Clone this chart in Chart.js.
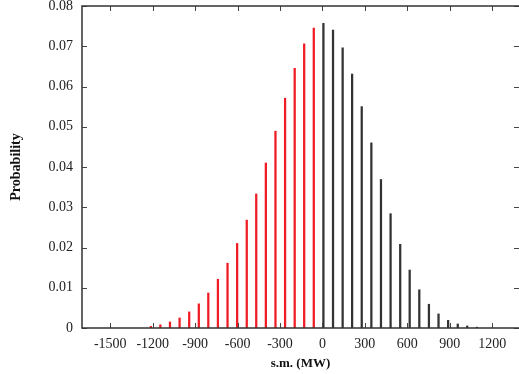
<!DOCTYPE html>
<html lang="en">
<head>
    <meta charset="UTF-8">
    <title>s.m. probability</title>
    <style>
        html, body {
            margin: 0;
            padding: 0;
            background: #fff;
        }
        #wrap {
            width: 519px;
            height: 374px;
        }
    </style>
</head>
<body>
    <div id="wrap"><canvas id="chart" width="519" height="374"></canvas></div>

    <script src="https://cdn.jsdelivr.net/npm/chart.js"></script>
    <script>
        // bars below zero (red) and above zero (black), x in MW
        const negX = [-1213, -1146, -1078, -1010, -942, -874, -807, -739, -671, -603, -535, -468, -400, -332, -264, -196, -129, -61];
        const negP = [0.0004, 0.0008, 0.0015, 0.0025, 0.0040, 0.0060, 0.0087, 0.0121, 0.0161, 0.0210, 0.0268, 0.0333, 0.0410, 0.0489, 0.0571, 0.0645, 0.0706, 0.0745];
        const posX = [7, 75, 143, 210, 278, 346, 414, 482, 550, 617, 685, 753, 821, 889, 957, 1024, 1092];
        const posP = [0.0757, 0.0740, 0.0696, 0.0631, 0.0550, 0.0460, 0.0369, 0.0284, 0.0208, 0.0144, 0.0095, 0.0059, 0.0035, 0.0019, 0.0010, 0.0005, 0.0002];

        const xTicks = [-1500, -1200, -900, -600, -300, 0, 300, 600, 900, 1200];
        const yTicks = [0, 0.01, 0.02, 0.03, 0.04, 0.05, 0.06, 0.07, 0.08];

        const toPoints = (xs, ys) => xs.map((x, i) => ({ x: x, y: ys[i] }));

        // gnuplot style frame with inward ticks
        const framePlugin = {
            id: 'frame',
            afterDatasetsDraw(chart) {
                const { ctx, chartArea: a, scales } = chart;
                ctx.save();
                ctx.strokeStyle = '#444';
                ctx.lineWidth = 1;
                ctx.beginPath();
                xTicks.forEach(v => {
                    const px = Math.round(scales.x.getPixelForValue(v)) + 0.5;
                    ctx.moveTo(px, a.bottom);
                    ctx.lineTo(px, a.bottom - 5);
                    ctx.moveTo(px, a.top);
                    ctx.lineTo(px, a.top + 5);
                });
                yTicks.forEach(v => {
                    const py = Math.round(scales.y.getPixelForValue(v)) + 0.5;
                    ctx.moveTo(a.left, py);
                    ctx.lineTo(a.left + 5, py);
                    ctx.moveTo(a.right, py);
                    ctx.lineTo(a.right - 5, py);
                });
                ctx.stroke();
                ctx.strokeStyle = '#333';
                ctx.lineWidth = 1.5;
                ctx.beginPath();
                ctx.moveTo(a.right, a.top);
                ctx.lineTo(a.left, a.top);
                ctx.lineTo(a.left, a.bottom);
                ctx.lineTo(a.right, a.bottom);
                ctx.stroke();
                ctx.restore();
            }
        };

        Chart.defaults.font.family = '"Liberation Serif", "DejaVu Serif", serif';
        Chart.defaults.font.size = 14;
        Chart.defaults.color = '#222';

        new Chart(document.getElementById('chart'), {
            type: 'bar',
            data: {
                datasets: [{
                    data: toPoints(negX, negP),
                    backgroundColor: '#f01c24',
                    barThickness: 1.6,
                    grouped: false
                }, {
                    data: toPoints(posX, posP),
                    backgroundColor: '#333',
                    barThickness: 1.6,
                    grouped: false
                }]
            },
            options: {
                responsive: false,
                animation: false,
                layout: { padding: { top: 6, right: 0, bottom: 0, left: 0 } },
                plugins: {
                    legend: { display: false },
                    tooltip: { enabled: false }
                },
                scales: {
                    x: {
                        type: 'linear',
                        min: -1700,
                        max: 1390,
                        offset: false,
                        grid: { display: false, drawTicks: false, offset: false },
                        border: { display: false },
                        afterBuildTicks: s => { s.ticks = xTicks.map(v => ({ value: v })); },
                        afterFit: s => {
                            s.height = 46;
                            s.paddingLeft = 0;
                            s.paddingRight = 0;
                        },
                        ticks: {
                            padding: 8,
                            maxRotation: 0,
                            autoSkip: false,
                            callback: v => String(v)
                        },
                        title: {
                            display: true,
                            text: 's.m. (MW)',
                            font: { size: 13, weight: 'bold' },
                            color: '#111',
                            padding: { top: 0, bottom: 3 }
                        }
                    },
                    y: {
                        min: 0,
                        max: 0.08,
                        grid: { display: false, drawTicks: false },
                        border: { display: false },
                        afterBuildTicks: s => { s.ticks = yTicks.map(v => ({ value: v })); },
                        afterFit: s => {
                            s.width = 82;
                            s.paddingTop = 0;
                            s.paddingBottom = 0;
                        },
                        ticks: {
                            padding: 9,
                            callback: v => v === 0 ? '0' : v.toFixed(2)
                        },
                        title: {
                            display: true,
                            text: 'Probability',
                            font: { size: 14, weight: 'bold' },
                            color: '#111',
                            padding: { top: 8, bottom: 0 }
                        }
                    }
                }
            },
            plugins: [framePlugin]
        });
    </script>
</body>
</html>
